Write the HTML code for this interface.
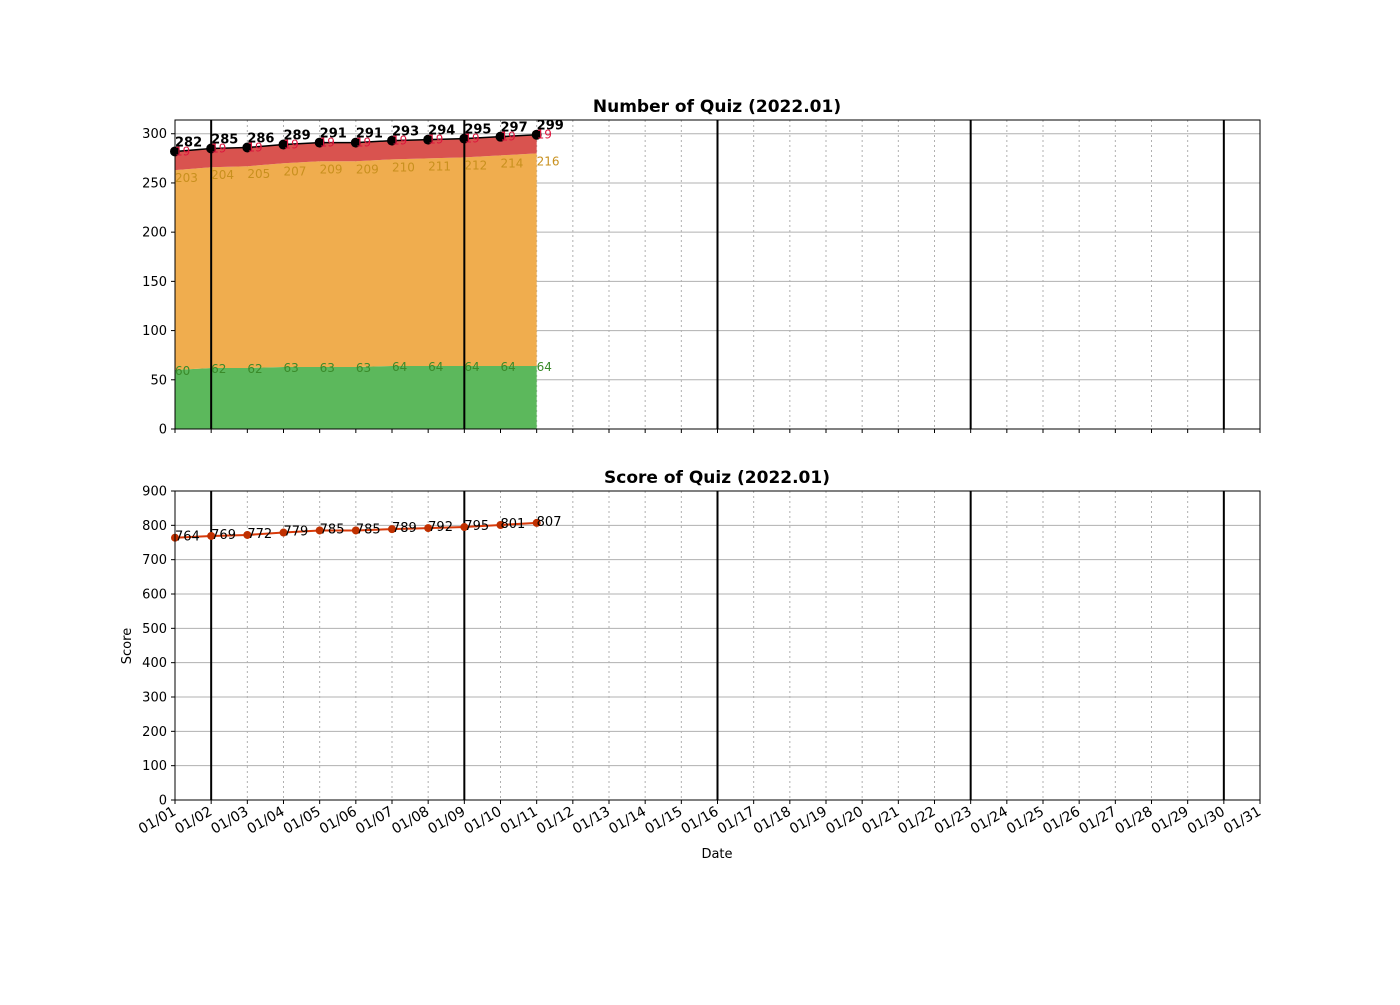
<!DOCTYPE html>
<html><head><meta charset="utf-8"><style>
body{margin:0;background:#fff;}
svg{font-family:"DejaVu Sans","Liberation Sans",sans-serif;}
</style></head><body>
<svg id="c" width="1400" height="1000"></svg>
<script>
const dates=["01/01","01/02","01/03","01/04","01/05","01/06","01/07","01/08","01/09","01/10","01/11","01/12","01/13","01/14","01/15","01/16","01/17","01/18","01/19","01/20","01/21","01/22","01/23","01/24","01/25","01/26","01/27","01/28","01/29","01/30","01/31"];
const green=[60,62,62,63,63,63,64,64,64,64,64];
const orange=[203,204,205,207,209,209,210,211,212,214,216];
const red=[19,19,19,19,19,19,19,19,19,19,19];
const scores=[764,769,772,779,785,785,789,792,795,801,807];
const topTicks=[0,50,100,150,200,250,300];
const botTicks=[0,100,200,300,400,500,600,700,800,900];
const sundays=[1,8,15,22,29];

const NS="http://www.w3.org/2000/svg";
const svg=document.getElementById('c');
function el(t,a,txt){const e=document.createElementNS(NS,t);for(const k in a)e.setAttribute(k,a[k]);if(txt!==undefined)e.textContent=txt;svg.appendChild(e);return e;}
const X0=175,X1=1260;
const xs=i=>X0+(X1-X0)*i/(dates.length-1);
const totals=green.map((g,i)=>g+orange[i]+red[i]);
const topMax=Math.max(...totals)*1.05;
const yT=v=>429-(429-120)*v/topMax;
const yB=v=>800-(800-491)*v/900;

function frame(top,bot,ticks,ys,name){
  ticks.forEach(t=>{
    const g=el('line',{x1:X0,x2:X1,y1:ys(t),y2:ys(t),stroke:'#b0b0b0','stroke-width':1});
    
    el('line',{x1:X0-4,x2:X0,y1:ys(t),y2:ys(t),stroke:'#000'});
    const l=el('text',{x:X0-8,y:ys(t)+4.5,'text-anchor':'end','font-size':13},t);
    
  });
  dates.forEach((d,i)=>{
    el('line',{x1:xs(i),x2:xs(i),y1:top,y2:bot,stroke:'#b0b0b0','stroke-dasharray':'2,3'});
    el('line',{x1:xs(i),x2:xs(i),y1:bot,y2:bot+4,stroke:'#000'});
  });
}
function sundayLines(top,bot){sundays.forEach(i=>{const l=el('line',{x1:xs(i),x2:xs(i),y1:top,y2:bot,stroke:'#000','stroke-width':2});});}

frame(120,429,topTicks,yT,'top');
function area(lo,hi,col,name){
  let p=hi.map((v,i)=>xs(i)+','+yT(v));
  for(let i=lo.length-1;i>=0;i--)p.push(xs(i)+','+yT(lo[i]));
  const a=el('polygon',{points:p.join(' '),fill:col});
  
}
const gTop=green, oTop=green.map((g,i)=>g+orange[i]);
area(green.map(()=>0),gTop,'#5cb85c','green-area');
area(gTop,oTop,'#f0ad4e','orange-area');
area(oTop,totals,'#d9534f','red-area');
sundayLines(120,429);
el('polyline',{points:totals.map((v,i)=>xs(i)+','+yT(v)).join(' '),fill:'none',stroke:'#000','stroke-width':1.5});
totals.forEach((v,i)=>{
  const c=el('circle',{cx:xs(i),cy:yT(v),r:5,fill:'#000'});
  
  el('text',{x:xs(i),y:yT(v)-5,'font-size':13,'font-weight':'bold'},v);
  el('text',{x:xs(i),y:yT(v)+4,'font-size':12,fill:'#dc143c'},red[i]);
  el('text',{x:xs(i),y:yT(oTop[i])+12,'font-size':12,fill:'#c8901e'},orange[i]);
  el('text',{x:xs(i),y:yT(gTop[i])+5,'font-size':12,fill:'#3a8a2a'},green[i]);
});
el('rect',{x:X0,y:120,width:X1-X0,height:309,fill:'none',stroke:'#000'});
const t1=el('text',{x:717,y:112,'text-anchor':'middle','font-size':17,'font-weight':'bold'},'Number of Quiz (2022.01)');


frame(491,800,botTicks,yB,'bottom');
sundayLines(491,800);
el('polyline',{points:scores.map((v,i)=>xs(i)+','+yB(v)).join(' '),fill:'none',stroke:'#d83a0a','stroke-width':2});
scores.forEach((v,i)=>{
  const c=el('circle',{cx:xs(i),cy:yB(v),r:4,fill:'#c03000'});
  
  el('text',{x:xs(i),y:yB(v)+3,'font-size':13},v);
});
el('rect',{x:X0,y:491,width:X1-X0,height:309,fill:'none',stroke:'#000'});
dates.forEach((d,i)=>{
  const tx=xs(i)+2, ty=814;
  const t=el('text',{x:tx,y:ty,'text-anchor':'end','font-size':14,transform:`rotate(-30 ${tx} ${ty})`},d);
  
});
const t2=el('text',{x:717,y:483,'text-anchor':'middle','font-size':17,'font-weight':'bold'},'Score of Quiz (2022.01)');

const xl=el('text',{x:717,y:858,'text-anchor':'middle','font-size':13},'Date');

const yl=el('text',{x:131,y:646,'text-anchor':'middle','font-size':13,transform:'rotate(-90 131 646)'},'Score');

</script>
</body></html>
